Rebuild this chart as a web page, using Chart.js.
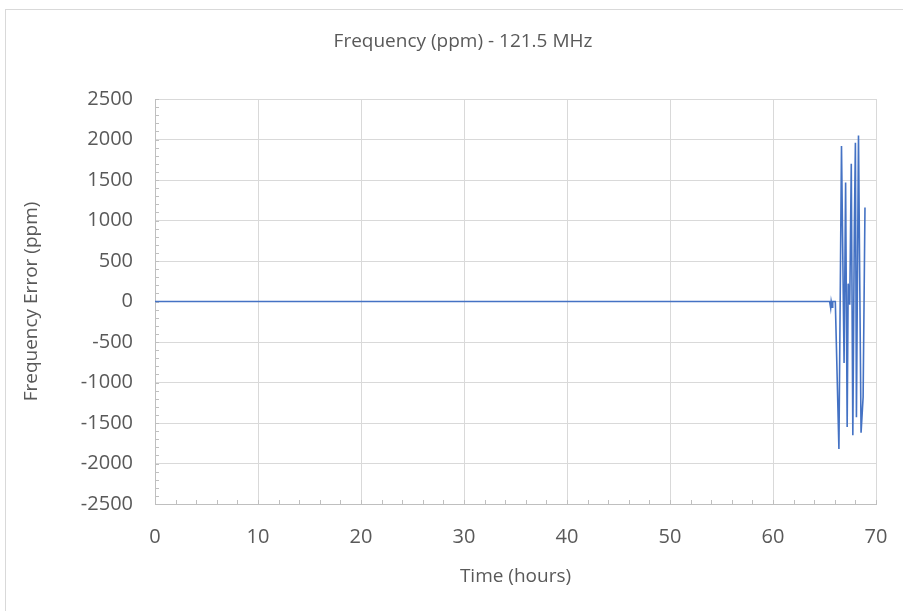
<!DOCTYPE html>
<html>
<head>
<meta charset="utf-8">
<script src="https://cdn.jsdelivr.net/npm/chart.js@4/dist/chart.umd.min.js"></script>
<style>
  html, body { margin: 0; padding: 0; background: #ffffff; overflow: hidden; }
  #wrap { position: relative; width: 903px; height: 611px; }
  #frame { position: absolute; left: 5px; top: 9px; width: 940px; height: 640px;
           border: 1px solid #d9d9d9; box-sizing: border-box; }
  #chart { position: absolute; left: 0; top: 0; }
</style>
</head>
<body>
<div id="wrap">
  <div id="frame"></div>
  <canvas id="chart" width="903" height="611"></canvas>
</div>
<script>
// Elapsed time (hours) and measured frequency error (ppm) of the 121.5 MHz signal
const hours = [0, 65.5, 65.6, 65.65, 65.75, 65.8, 66.05, 66.4, 66.65, 66.9, 67.05, 67.2, 67.3, 67.45,
               67.6, 67.75, 67.9, 68.0, 68.1, 68.3, 68.55, 68.75, 68.93];
const freqErrorPpm = [0, 0, -80, 0, -70, 0, 0, -1820, 1920, -760, 1470, -1550, 220, -40,
                      1700, -1650, 940, 1960, -1430, 2050, -1620, -1180, 1160];

// Axis tick labels
const xTickValues = [0, 10, 20, 30, 40, 50, 60, 70];
const yTickValues = [-2500, -2000, -1500, -1000, -500, 0, 500, 1000, 1500, 2000, 2500];
const xMinorStep = 2;
const yMinorStep = 100;

const points = hours.map((h, i) => ({ x: h, y: freqErrorPpm[i] }));

const textColor = '#595959';
const gridColor = '#d9d9d9';
const axisColor = '#bfbfbf';
const fontFamily = "'Open Sans', 'Liberation Sans', sans-serif";

// Small inward tick marks along the left and bottom axes
const minorTicks = {
  id: 'minorTicks',
  beforeDatasetsDraw(chart) {
    const { ctx, chartArea, scales: { x, y } } = chart;
    ctx.save();
    ctx.strokeStyle = axisColor;
    ctx.lineWidth = 1;
    ctx.beginPath();
    for (let v = yTickValues[0]; v <= yTickValues[yTickValues.length - 1]; v += yMinorStep) {
      const py = Math.round(y.getPixelForValue(v)) + 0.5;
      ctx.moveTo(chartArea.left, py);
      ctx.lineTo(chartArea.left + 4, py);
    }
    for (let v = xTickValues[0]; v <= xTickValues[xTickValues.length - 1]; v += xMinorStep) {
      const px = Math.round(x.getPixelForValue(v)) + 0.5;
      ctx.moveTo(px, chartArea.bottom);
      ctx.lineTo(px, chartArea.bottom - 4);
    }
    ctx.stroke();
    ctx.restore();
  }
};

const plainNumber = v => String(v);

new Chart(document.getElementById('chart'), {
  type: 'scatter',
  data: {
    datasets: [{
      data: points,
      showLine: true,
      borderColor: '#4472c4',
      borderWidth: 1.6,
      pointRadius: 0,
      tension: 0
    }]
  },
  options: {
    responsive: false,
    animation: false,
    layout: { padding: { left: 50, right: 27, top: 0, bottom: 0 } },
    plugins: {
      legend: { display: false },
      tooltip: { enabled: false },
      title: {
        display: true,
        text: 'Frequency (ppm) - 121.5 MHz',
        color: textColor,
        font: { family: fontFamily, size: 19, weight: 'normal', lineHeight: 1.2 },
        padding: { top: 30.6, bottom: 45.6 }
      }
    },
    scales: {
      x: {
        type: 'linear',
        min: xTickValues[0],
        max: xTickValues[xTickValues.length - 1],
        afterBuildTicks(scale) { scale.ticks = xTickValues.map(v => ({ value: v })); },
        afterFit(scale) { scale.height = 107; scale.paddingLeft = 0; scale.paddingRight = 0; },
        grid: { color: gridColor, drawTicks: false },
        border: { color: axisColor },
        ticks: { color: textColor, font: { family: fontFamily, size: 20 }, padding: 21, maxRotation: 0, callback: plainNumber },
        title: {
          display: true,
          text: 'Time (hours)',
          color: textColor,
          font: { family: fontFamily, size: 19, lineHeight: 1.2 },
          padding: { top: 0, bottom: 23 }
        }
      },
      y: {
        type: 'linear',
        min: yTickValues[0],
        max: yTickValues[yTickValues.length - 1],
        afterBuildTicks(scale) { scale.ticks = yTickValues.map(v => ({ value: v })); },
        afterFit(scale) { scale.width = 105; scale.paddingTop = 0; scale.paddingBottom = 0; },
        grid: { color: gridColor, drawTicks: false },
        border: { color: axisColor },
        ticks: { color: textColor, font: { family: fontFamily, size: 20 }, padding: 22, callback: plainNumber },
        title: {
          display: true,
          text: 'Frequency Error (ppm)',
          color: textColor,
          font: { family: fontFamily, size: 19, lineHeight: 1.2 },
          padding: { top: -29.4, bottom: 0 }
        }
      }
    }
  },
  plugins: [minorTicks]
});
</script>
</body>
</html>
